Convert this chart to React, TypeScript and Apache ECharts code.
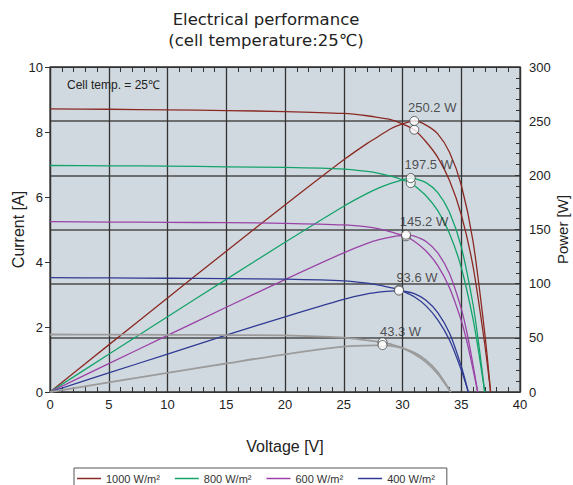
import React, { useEffect, useRef } from "react";
import * as echarts from "echarts";

const irradianceNames = ["1000 W/m²", "800 W/m²", "600 W/m²", "400 W/m²", "200 W/m²"];
const legendNames = ["1000 W/m²", "800 W/m²", "600 W/m²", "400 W/m²"];
const colors = ["#8B2A23", "#13A36B", "#9A43A6", "#2F3A93", "#9B9B9B"];

const voltage1000 = [0, 5, 10, 15, 20, 25, 27, 28, 29, 30, 31, 32, 33, 34, 35, 36, 37, 37.5];
const current1000 = [8.71, 8.7, 8.68, 8.66, 8.63, 8.57, 8.5, 8.44, 8.38, 8.25, 8.07, 7.7, 7.22, 6.51, 5.46, 3.87, 1.47, 0];
const power1000 = [0, 43.5, 86.8, 129.9, 172.6, 214.3, 229.5, 236.3, 243.0, 247.5, 250.2, 246.4, 238.3, 221.3, 191.1, 139.3, 54.4, 0];

const voltage800 = [0, 5, 10, 15, 20, 25, 27, 28, 29, 30, 30.7, 31, 32, 33, 34, 35, 36, 36.5, 37];
const current800 = [6.97, 6.96, 6.95, 6.93, 6.91, 6.86, 6.79, 6.73, 6.64, 6.53, 6.43, 6.36, 6.04, 5.58, 4.88, 3.83, 2.25, 1.19, 0];
const power800 = [0, 34.8, 69.5, 104.0, 138.2, 171.5, 183.3, 188.4, 192.6, 195.9, 197.5, 197.2, 193.3, 184.1, 165.9, 134.1, 81.0, 43.4, 0];

const voltage600 = [0, 5, 10, 15, 20, 25, 27, 28, 29, 30, 30.3, 31, 32, 33, 34, 35, 35.5, 36, 36.4];
const current600 = [5.24, 5.23, 5.22, 5.21, 5.19, 5.14, 5.08, 5.02, 4.93, 4.82, 4.79, 4.64, 4.34, 3.89, 3.21, 2.2, 1.52, 0.7, 0];
const power600 = [0, 26.2, 52.2, 78.2, 103.8, 128.5, 137.2, 140.6, 143.0, 144.6, 145.2, 143.8, 138.9, 128.4, 109.1, 77.0, 54.0, 25.2, 0];

const voltage400 = [0, 5, 10, 15, 20, 25, 27, 28, 29, 29.7, 30, 31, 32, 33, 34, 35, 35.6];
const current400 = [3.52, 3.51, 3.5, 3.49, 3.47, 3.42, 3.35, 3.29, 3.21, 3.15, 3.11, 2.93, 2.65, 2.22, 1.6, 0.68, 0];
const power400 = [0, 17.6, 35.0, 52.4, 69.4, 85.5, 90.5, 92.1, 93.1, 93.6, 93.3, 90.8, 84.8, 73.3, 54.4, 23.8, 0];

const voltage200 = [0, 5, 10, 15, 20, 25, 27, 28, 28.3, 29, 30, 31, 32, 33, 34, 34.1];
const current200 = [1.77, 1.765, 1.76, 1.75, 1.74, 1.67, 1.59, 1.54, 1.53, 1.47, 1.35, 1.17, 0.92, 0.56, 0.06, 0];
const power200 = [0, 8.8, 17.6, 26.3, 34.8, 41.8, 42.9, 43.1, 43.3, 42.6, 40.5, 36.3, 29.4, 18.5, 2.0, 0];

const mppVoltage = [31.0, 30.7, 30.3, 29.7, 28.3];
const mppCurrent = [8.07, 6.43, 4.79, 3.15, 1.53];
const mppPower = [250.2, 197.5, 145.2, 93.6, 43.3];
const mppLabels = ["250.2 W", "197.5 W", "145.2 W", "93.6 W", "43.3 W"];

const xTicks = [0, 40, 5];
const currentTicks = [0, 10, 2];
const powerTicks = [0, 300, 50];

const voltages = [voltage1000, voltage800, voltage600, voltage400, voltage200];
const currents = [current1000, current800, current600, current400, current200];
const powers = [power1000, power800, power600, power400, power200];

const FONT = "'Liberation Sans', Arial, sans-serif";

export default function App() {
  const ref = useRef<HTMLDivElement>(null);
  useEffect(() => {
    if (!ref.current) return;
    const chart = echarts.init(ref.current, null, { renderer: "svg" });
    const series: any[] = [];
    irradianceNames.forEach((name, i) => {
      const lw = i === 4 ? 1.8 : 1.3;
      series.push({
        type: "line",
        name,
        xAxisIndex: 0,
        yAxisIndex: 0,
        data: voltages[i].map((v, k) => [v, currents[i][k]]),
        symbol: "none",
        smooth: 0.25,
        color: colors[i],
        lineStyle: { color: colors[i], width: lw },
        z: 3,
      });
      series.push({
        type: "line",
        name,
        xAxisIndex: 0,
        yAxisIndex: 1,
        data: voltages[i].map((v, k) => [v, powers[i][k]]),
        symbol: "none",
        smooth: 0.25,
        color: colors[i],
        lineStyle: { color: colors[i], width: lw },
        z: 3,
      });
    });
    series.push({
      type: "scatter",
      name: "mppCurrent",
      xAxisIndex: 0,
      yAxisIndex: 0,
      symbolSize: 9,
      itemStyle: { color: "#ffffff", borderColor: "#444", borderWidth: 1 },
      data: mppVoltage.map((v, k) => [v, mppCurrent[k]]),
      z: 6,
    });
    series.push({
      type: "scatter",
      name: "mppPower",
      xAxisIndex: 0,
      yAxisIndex: 1,
      symbolSize: 9,
      itemStyle: { color: "#ffffff", borderColor: "#444", borderWidth: 1 },
      data: mppVoltage.map((v, k) => ({ value: [v, mppPower[k]], name: mppLabels[k] })),
      label: {
        show: true,
        position: "top",
        offset: [18, 3],
        formatter: "{b}",
        color: "#2a2a2a",
        fontSize: 13,
        fontFamily: FONT,
      },
      z: 7,
    });

    chart.setOption({
      animation: false,
      backgroundColor: "#ffffff",
      title: {
        text: "Electrical performance\n(cell temperature:25℃)",
        left: 261,
        top: 4,
        textAlign: "center",
        textStyle: {
          fontSize: 16.5,
          fontWeight: "normal",
          color: "#222",
          lineHeight: 21,
          fontFamily: "'DejaVu Sans', sans-serif",
        },
      },
      legend: {
        data: legendNames,
        left: 74,
        top: 468,
        orient: "horizontal",
        icon: "rect",
        itemWidth: 24,
        itemHeight: 1.5,
        itemGap: 15,
        padding: [5, 12, 6, 3],
        borderColor: "#555",
        borderWidth: 1,
        textStyle: { fontSize: 11, color: "#333", fontFamily: FONT },
        selectedMode: false,
      },
      grid: {
        left: 50,
        right: 53,
        top: 67,
        bottom: 93,
        outerBoundsMode: "none",
        containLabel: false,
        show: true,
        backgroundColor: "#D1D9E0",
        borderColor: "#333",
        borderWidth: 1.2,
      },
      xAxis: [
        {
          type: "value",
          min: xTicks[0],
          max: xTicks[1],
          interval: xTicks[2],
          name: "Voltage [V]",
          nameLocation: "middle",
          nameGap: 46,
          nameMoveOverlap: false,
          nameTextStyle: { fontSize: 16, color: "#222", fontFamily: FONT },
          axisLine: { show: true, onZero: false, lineStyle: { color: "#333", width: 1.2 } },
          axisTick: { show: true, inside: true, length: 8, lineStyle: { color: "#333" } },
          minorTick: { show: true, splitNumber: 5, length: 5, lineStyle: { color: "#333" } },
          axisLabel: { fontSize: 13, color: "#222", margin: 6, fontFamily: FONT },
          splitLine: { show: true, lineStyle: { color: "#333", width: 1.3 } },
        },
        {
          type: "value",
          position: "top",
          min: xTicks[0],
          max: xTicks[1],
          interval: xTicks[2],
          axisLine: { show: true, onZero: false, lineStyle: { color: "#333", width: 1.2 } },
          axisTick: { show: true, inside: true, length: 6, lineStyle: { color: "#333" } },
          minorTick: { show: true, splitNumber: 5, length: 5, lineStyle: { color: "#333" } },
          axisLabel: { show: false },
          splitLine: { show: false },
        },
      ],
      yAxis: [
        {
          type: "value",
          min: currentTicks[0],
          max: currentTicks[1],
          interval: currentTicks[2],
          name: "Current [A]",
          nameLocation: "middle",
          nameGap: 24,
          nameMoveOverlap: false,
          nameTextStyle: { fontSize: 16, color: "#222", fontFamily: FONT },
          axisLine: { show: true, onZero: false, lineStyle: { color: "#333", width: 1.2 } },
          axisTick: { show: true, inside: false, length: 5, lineStyle: { color: "#333" } },
          axisLabel: { fontSize: 13, color: "#222", margin: 7, fontFamily: FONT },
          splitLine: { show: false },
        },
        {
          type: "value",
          position: "right",
          min: powerTicks[0],
          max: powerTicks[1],
          interval: powerTicks[2],
          name: "Power [W]",
          nameLocation: "middle",
          nameGap: 35,
          nameMoveOverlap: false,
          nameTextStyle: { fontSize: 15, color: "#222", fontFamily: FONT },
          axisLine: { show: true, onZero: false, lineStyle: { color: "#333", width: 1.2 } },
          axisTick: { show: true, inside: true, length: 5, lineStyle: { color: "#333" } },
          minorTick: { show: true, splitNumber: 5, length: 4, lineStyle: { color: "#333" } },
          axisLabel: { fontSize: 13, color: "#222", margin: 9, fontFamily: FONT },
          splitLine: { show: true, lineStyle: { color: "#4a4a4a", width: 1.5 } },
        },
      ],
      graphic: [
        {
          type: "text",
          left: 67,
          top: 79,
          style: { text: "Cell temp. = 25℃", fontSize: 12, fill: "#222", fontFamily: FONT },
          z: 10,
        },
      ],
      series,
    });
    return () => chart.dispose();
  }, []);
  return (
    <div
      ref={ref}
      style={{ position: "absolute", left: 0, top: 0, width: 573, height: 485 }}
    />
  );
}
